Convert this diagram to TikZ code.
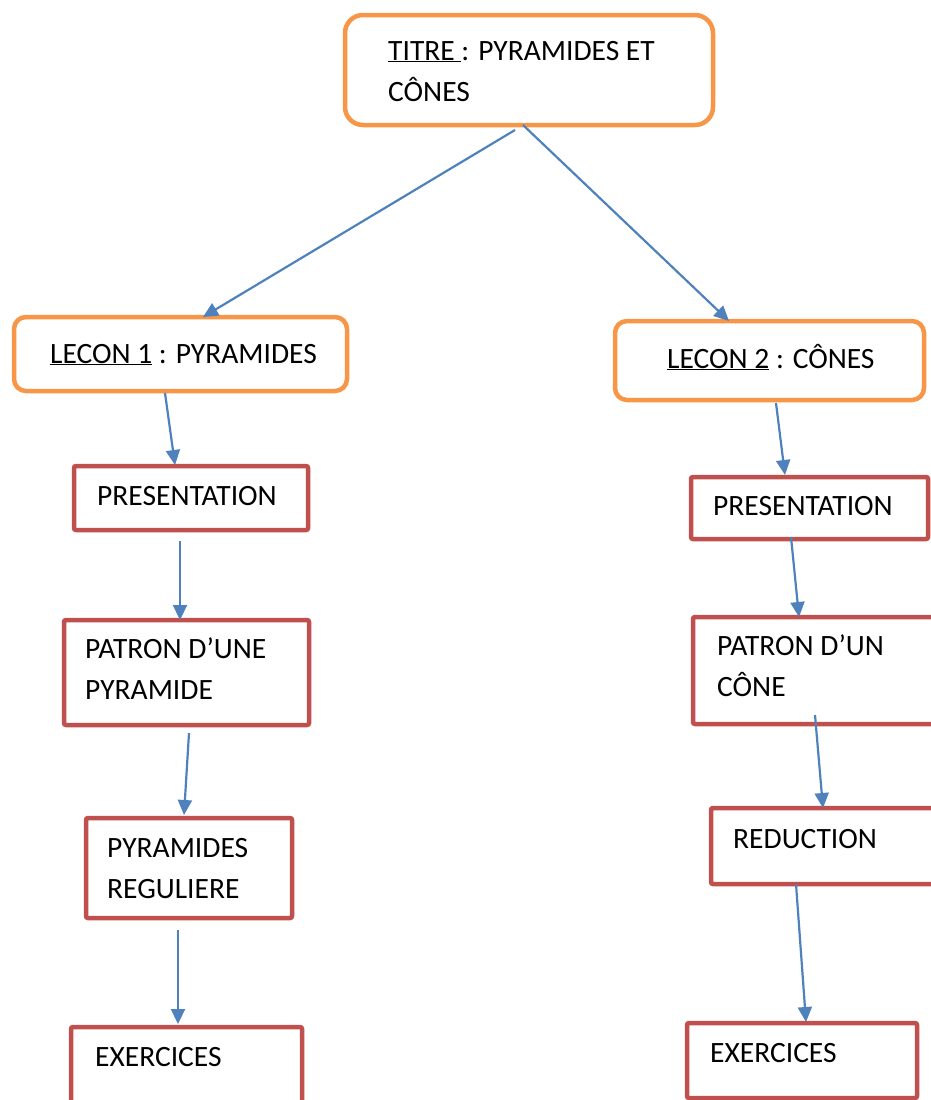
\documentclass[tikz,border=0pt]{standalone}
\usepackage{fontspec}
\setmainfont{Carlito}
\usetikzlibrary{arrows.meta,positioning}
\usepackage{xcolor}
\definecolor{lessonorange}{HTML}{F79646}
\definecolor{stepred}{HTML}{C0504D}
\definecolor{linkblue}{HTML}{4F81BD}

\begin{document}
\begin{tikzpicture}[
  x=1pt, y=-1pt,
  obox/.style={
    draw=lessonorange,
    line width=4.5pt,
    rounded corners=#1,
    fill=white,
    anchor=north west,
    outer sep=0pt,
    inner sep=0pt,
  },
  rbox/.style={
    draw=stepred,
    line width=4.5pt,
    rounded corners=2pt,
    fill=white,
    anchor=north west,
    outer sep=0pt,
    inner sep=0pt,
  },
  lbl/.style={
    font=\fontsize{29.5}{41}\selectfont,
    anchor=base west,
    align=left,
    inner sep=0pt,
  },
  arr/.style={
    -{Triangle[length=15pt,width=14pt]},
    line width=2.2pt,
    linkblue,
  },
]
\clip (0,0) rectangle (931,1100);

% Boxes
\node[obox=18pt, minimum width=368pt, minimum height=110pt] (title) at (345,15) {};
\node[obox=12pt, minimum width=333pt, minimum height=74pt] (lecon1) at (14,317) {};
\node[obox=12pt, minimum width=309pt, minimum height=79pt] (lecon2) at (615,321) {};

\node[rbox, minimum width=234pt, minimum height=64pt] (pres1) at (74,466) {};
\node[rbox, minimum width=245pt, minimum height=105pt] (patron1) at (64,620) {};
\node[rbox, minimum width=206pt, minimum height=100pt] (reg1) at (86,818) {};
\node[rbox, minimum width=231pt, minimum height=90pt] (exo1) at (71,1027) {};

\node[rbox, minimum width=237pt, minimum height=62pt] (pres2) at (691,477) {};
\node[rbox, minimum width=247pt, minimum height=107pt] (patron2) at (693,617) {};
\node[rbox, minimum width=229pt, minimum height=76pt] (reduc2) at (711,808) {};
\node[rbox, minimum width=230pt, minimum height=75pt] (exo2) at (687,1023) {};

% Labels (base = last line)
\node[lbl] (titlet) at ([xshift=43pt,yshift=-86pt]title.north west)
  {\underline{TITRE\ }: PYRAMIDES ET\\CÔNES};
\node[lbl] (lecon1t) at ([xshift=36pt,yshift=-46pt]lecon1.north west)
  {\underline{LECON 1} : PYRAMIDES};
\node[lbl] (lecon2t) at ([xshift=52pt,yshift=-47pt]lecon2.north west)
  {\underline{LECON 2} : CÔNES};

\node[lbl] (pres1t) at ([xshift=23pt,yshift=-39pt]pres1.north west) {PRESENTATION};
\node[lbl] (patron1t) at ([xshift=21pt,yshift=-79pt]patron1.north west) {PATRON D’UNE\\PYRAMIDE};
\node[lbl] (reg1t) at ([xshift=21pt,yshift=-80pt]reg1.north west) {PYRAMIDES\\REGULIERE};
\node[lbl] (exo1t) at ([xshift=24pt,yshift=-39pt]exo1.north west) {EXERCICES};

\node[lbl] (pres2t) at ([xshift=22pt,yshift=-38pt]pres2.north west) {PRESENTATION};
\node[lbl] (patron2t) at ([xshift=24pt,yshift=-79pt]patron2.north west) {PATRON D’UN\\CÔNE};
\node[lbl] (reduc2t) at ([xshift=22pt,yshift=-40pt]reduc2.north west) {REDUCTION};
\node[lbl] (exo2t) at ([xshift=23pt,yshift=-39pt]exo2.north west) {EXERCICES};

% Arrows
\draw[arr] ([xshift=-14pt,yshift=-5pt]title.south) -- ([xshift=22.5pt]lecon1.north);
\draw[arr] ([xshift=-6pt]title.south) -- ([xshift=-40.5pt]lecon2.north);

\draw[arr] ([xshift=-15.5pt,yshift=-2pt]lecon1.south) -- ([xshift=-16pt,yshift=1pt]pres1.north);
\draw[arr] ([xshift=-11pt,yshift=-11pt]pres1.south) -- ([xshift=-6.5pt]patron1.north);
\draw[arr] ([xshift=2.5pt,yshift=-8pt]patron1.south) -- ([xshift=-5pt,yshift=3pt]reg1.north);
\draw[arr] ([xshift=-11pt,yshift=-12pt]reg1.south) -- ([xshift=-8.5pt,yshift=3pt]exo1.north);

\draw[arr] ([xshift=6.5pt,yshift=-3pt]lecon2.south) -- ([xshift=-24.5pt,yshift=2pt]pres2.north);
\draw[arr] ([xshift=-18.5pt,yshift=2pt]pres2.south) -- ([xshift=-17.5pt]patron2.north);
\draw[arr] ([xshift=-1.5pt,yshift=9pt]patron2.south) -- ([xshift=-2.5pt]reduc2.north);
\draw[arr] ([xshift=-29.5pt]reduc2.south) -- ([xshift=4pt,yshift=1pt]exo2.north);

\end{tikzpicture}
\end{document}
